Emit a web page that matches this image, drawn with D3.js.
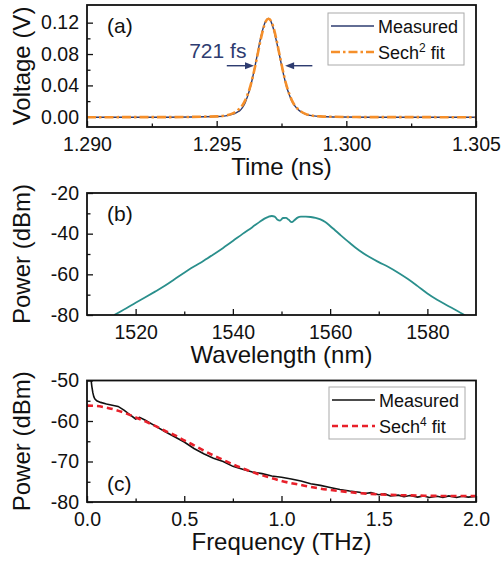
<!DOCTYPE html>
<html>
<head>
<meta charset="utf-8">
<script src="https://cdn.jsdelivr.net/npm/d3@7"></script>
<style>
  body { margin: 0; background: #fff; }
  text { font-family: "Liberation Sans", Arial, sans-serif; }
</style>
</head>
<body>
<div class="chart"></div>
<script>
const width = 503;
const height = 563;

// (a) autocorrelation trace
const timeA = [1.2900, 1.2930, 1.2950, 1.2954, 1.2956, 1.2958, 1.2959, 1.2960, 1.2961, 1.2962, 1.2963, 1.2964,
  1.2965, 1.2966, 1.2967, 1.2968, 1.2969, 1.2970, 1.2971, 1.2972, 1.2973, 1.2974, 1.2975, 1.2976, 1.2977,
  1.2978, 1.2979, 1.2980, 1.2981, 1.2982, 1.2984, 1.2986, 1.2990, 1.2995, 1.3010, 1.3050];
const measuredA = [-0.0006, -0.0005, 0.0003, 0.0015, 0.003, 0.006, 0.008, 0.012, 0.018, 0.027, 0.038, 0.052,
  0.068, 0.085, 0.101, 0.114, 0.1225, 0.1255, 0.121, 0.111, 0.097, 0.082, 0.066, 0.051, 0.038,
  0.028, 0.020, 0.0145, 0.0105, 0.0075, 0.0038, 0.0018, 0.0004, -0.0002, -0.0005, -0.0006];
const fitA = [-0.0005, -0.0004, 0.0005, 0.002, 0.004, 0.008, 0.011, 0.015, 0.021, 0.029, 0.039, 0.052,
  0.067, 0.083, 0.099, 0.1125, 0.122, 0.125, 0.122, 0.1125, 0.099, 0.083, 0.067, 0.052, 0.039,
  0.029, 0.021, 0.015, 0.011, 0.008, 0.004, 0.002, 0.0005, 0.0, -0.0004, -0.0005];
const ticksA_x = [1.290, 1.295, 1.300, 1.305];
const minorA_x = [1.2925, 1.2975, 1.3025];
const ticksA_y = [0.00, 0.04, 0.08, 0.12];
const minorA_y = [0.02, 0.06, 0.10];

// (b) optical spectrum
const wavelength = [1515.6, 1518, 1520, 1522, 1524, 1526, 1528, 1530, 1532, 1534, 1536, 1538, 1540, 1542, 1544,
  1545.5, 1546.5, 1547.3, 1548, 1548.6, 1549.2, 1549.7, 1550.3, 1550.9, 1551.5, 1552.1, 1552.7, 1553.3, 1554,
  1555, 1556, 1557, 1558, 1559, 1560, 1561, 1562, 1564, 1566, 1568, 1570, 1572, 1574, 1576, 1578, 1580,
  1582, 1584, 1586, 1588];
const powerB = [-80, -76.8, -74.0, -71.3, -68.5, -65.6, -62.4, -59.2, -56.2, -53.3, -50.2, -47.0, -43.6, -40.1, -36.8,
  -34.2, -32.6, -31.7, -31.3, -31.6, -33.2, -33.6, -32.3, -32.2, -33.2, -34.3, -33.3, -32.1, -31.6,
  -31.6, -31.8, -32.2, -33.0, -34.3, -36.2, -38.3, -40.4, -44.5, -48.3, -51.4, -54.0, -56.4, -59.2, -62.3, -65.8, -69.4,
  -72.5, -75.2, -77.8, -80.6];
const ticksB_x = [1520, 1540, 1560, 1580];
const minorB_x = [1530, 1550, 1570];
const ticksB_y = [-80, -60, -40, -20];
const minorB_y = [-70, -50, -30];

// (c) RF spectrum
const freqC = [0.02, 0.025, 0.03, 0.035, 0.04, 0.05, 0.07, 0.1, 0.13, 0.16, 0.19, 0.22, 0.25, 0.27, 0.3, 0.35,
  0.4, 0.45, 0.5, 0.55, 0.6, 0.65, 0.7, 0.75, 0.8, 0.85, 0.9, 0.95, 1.0, 1.05, 1.1, 1.15, 1.2, 1.25, 1.3,
  1.35, 1.4, 1.43, 1.46, 1.5, 1.53, 1.56, 1.6, 1.63, 1.66, 1.7, 1.73, 1.76, 1.8, 1.83, 1.86, 1.9, 1.93, 1.96, 2.0];
const measuredC = [-49.5, -51.5, -53, -54, -54.5, -55, -55.4, -55.8, -56.1, -56.4, -57.3, -58.4, -59.5, -59.1, -59.8, -61.2,
  -62.6, -63.9, -65.2, -66.8, -68.1, -69.2, -70, -71.2, -71.9, -72.6, -73, -73.6, -73.9, -74.3, -74.8, -75.5, -75.9, -76.4, -76.9,
  -77.3, -77.6, -77.9, -77.7, -78.2, -78.0, -78.5, -78.3, -78.7, -78.4, -78.8, -78.5, -78.9, -78.6, -78.9, -78.5, -78.9, -78.6, -78.8, -78.6];
const freqFit = [0, 0.05, 0.1, 0.15, 0.2, 0.25, 0.3, 0.35, 0.4, 0.45, 0.5, 0.55, 0.6, 0.65, 0.7, 0.75, 0.8, 0.85,
  0.9, 0.95, 1.0, 1.1, 1.2, 1.3, 1.4, 1.5, 1.6, 1.7, 1.8, 2.0];
const fitC = [-56.2, -56.3, -56.7, -57.3, -58.1, -59.1, -60.1, -61.2, -62.4, -63.5, -64.8, -66.0, -67.3, -68.5, -69.6, -70.7, -71.7, -72.6,
  -73.4, -74.1, -74.8, -75.8, -76.7, -77.3, -77.8, -78.1, -78.3, -78.4, -78.5, -78.5];
const ticksC_x = [0.0, 0.5, 1.0, 1.5, 2.0];
const minorC_x = [0.25, 0.75, 1.25, 1.75];
const ticksC_y = [-80, -70, -60, -50];
const minorC_y = [-75, -65, -55];

const left = 87, right = 476;
const panels = {
  a: {top: 5, bottom: 127},
  b: {top: 193, bottom: 315},
  c: {top: 380.5, bottom: 502}
};

const svg = d3.select('.chart').append('svg')
  .attr('width', width)
  .attr('height', height);

// plain hyphen for negatives, like the original figure
const intFmt = d => String(d);

function drawPanel(p, xDom, yDom, xt, xm, yt, ym, xFmt, yFmt, xTitle, yTitle) {
  const x = d3.scaleLinear().domain(xDom).range([left, right]);
  const y = d3.scaleLinear().domain(yDom).range([p.bottom, p.top]);
  const g = svg.append('g');

  // minor ticks
  g.append('g').attr('transform', `translate(0,${p.bottom})`)
    .call(d3.axisBottom(x).tickValues(xm).tickSize(-3.5).tickFormat(''))
    .call(s => s.select('.domain').remove());
  g.append('g').attr('transform', `translate(${left},0)`)
    .call(d3.axisLeft(y).tickValues(ym).tickSize(-3.5).tickFormat(''))
    .call(s => s.select('.domain').remove());
  // major ticks
  g.append('g').attr('transform', `translate(0,${p.bottom})`)
    .call(d3.axisBottom(x).tickValues(xt).tickSize(-6).tickPadding(10.3).tickFormat(xFmt))
    .call(s => s.select('.domain').remove())
    .call(s => s.selectAll('text').attr('font-size', 19.5).attr('font-family', '"Liberation Sans", Arial, sans-serif').attr('fill', '#111'));
  g.append('g').attr('transform', `translate(${left},0)`)
    .call(d3.axisLeft(y).tickValues(yt).tickSize(-6).tickPadding(8).tickFormat(yFmt))
    .call(s => s.select('.domain').remove())
    .call(s => s.selectAll('text').attr('font-size', 19.5).attr('font-family', '"Liberation Sans", Arial, sans-serif').attr('fill', '#111'));
  g.selectAll('.tick line').attr('stroke', '#111').attr('stroke-width', 1.3);

  g.append('text')
    .attr('x', (left + right) / 2)
    .attr('y', p.bottom + 48)
    .attr('text-anchor', 'middle')
    .attr('font-size', 24)
    .attr('fill', '#111')
    .text(xTitle);
  g.append('text')
    .attr('transform', `translate(30,${(p.top + p.bottom) / 2}) rotate(-90)`)
    .attr('text-anchor', 'middle')
    .attr('font-size', 24)
    .attr('fill', '#111')
    .text(yTitle);

  const clipId = 'clip' + Math.round(p.top);
  svg.append('clipPath').attr('id', clipId)
    .append('rect').attr('x', left).attr('y', p.top).attr('width', right - left).attr('height', p.bottom - p.top);
  const plot = svg.append('g').attr('clip-path', `url(#${clipId})`);
  return {x, y, g, plot};
}

function frame(p) {
  svg.append('rect')
    .attr('x', left).attr('y', p.top)
    .attr('width', right - left).attr('height', p.bottom - p.top)
    .attr('fill', 'none').attr('stroke', '#111').attr('stroke-width', 1.8);
}

function legend(x0, y0, w, h, items) {
  const lg = svg.append('g');
  lg.append('rect').attr('x', x0).attr('y', y0).attr('width', w).attr('height', h)
    .attr('fill', '#fff').attr('stroke', '#aaa').attr('stroke-width', 1);
  items.forEach(it => {
    lg.append('line').attr('x1', x0 + 3).attr('x2', x0 + 46).attr('y1', it.y).attr('y2', it.y)
      .attr('stroke', it.color).attr('stroke-width', it.width).attr('stroke-dasharray', it.dash || null);
    const t = lg.append('text').attr('x', x0 + 50).attr('y', it.y + 6.5).attr('font-size', 18).attr('fill', '#111');
    t.append('tspan').text(it.label);
    if (it.sup) {
      t.append('tspan').attr('font-size', 12).attr('dy', -7).text(it.sup);
      t.append('tspan').attr('dy', 7).text(it.rest);
    }
  });
}

// ---- panel (a)
const A = drawPanel(panels.a, [1.290, 1.305], [-0.013, 0.1425], ticksA_x, minorA_x, ticksA_y, minorA_y,
  d3.format('.3f'), d3.format('.2f'), 'Time (ns)', 'Voltage (V)');
const lineA = d3.line().x((d, i) => A.x(timeA[i])).curve(d3.curveMonotoneX);
A.plot.append('path')
  .attr('d', lineA.y(d => A.y(d))(measuredA))
  .attr('fill', 'none').attr('stroke', '#2e3c70').attr('stroke-width', 1.4);
A.plot.append('path')
  .attr('d', lineA.y(d => A.y(d))(fitA))
  .attr('fill', 'none').attr('stroke', '#f58f2a').attr('stroke-width', 2.6)
  .attr('stroke-dasharray', '9,3,2.5,3');

// FWHM arrows
const arrowColor = '#2e3c70';
function arrow(t0, t1, v) {
  const x0 = A.x(t0), x1 = A.x(t1), yy = A.y(v);
  const dir = Math.sign(x1 - x0);
  svg.append('line').attr('x1', x0).attr('x2', x1 - dir * 6).attr('y1', yy).attr('y2', yy)
    .attr('stroke', arrowColor).attr('stroke-width', 1.4);
  svg.append('path')
    .attr('d', `M${x1},${yy} L${x1 - dir * 9},${yy - 3.5} L${x1 - dir * 9},${yy + 3.5} Z`)
    .attr('fill', arrowColor);
}
arrow(1.29539, 1.29644, 0.0651);
arrow(1.29869, 1.29764, 0.0651);
svg.append('text').attr('x', A.x(1.29394)).attr('y', A.y(0.0745))
  .attr('font-size', 21).attr('fill', arrowColor).text('721 fs');
svg.append('text').attr('x', 107).attr('y', 33).attr('font-size', 21).attr('fill', '#111').text('(a)');
frame(panels.a);
legend(328, 13, 136, 52, [
  {y: 26, color: '#2e3c70', width: 1.4, label: 'Measured'},
  {y: 52, color: '#f58f2a', width: 2.6, dash: '9,3,2.5,3', label: 'Sech', sup: '2', rest: ' fit'}
]);

// ---- panel (b)
const B = drawPanel(panels.b, [1510, 1590], [-80, -20], ticksB_x, minorB_x, ticksB_y, minorB_y,
  intFmt, intFmt, 'Wavelength (nm)', 'Power (dBm)');
B.plot.append('path')
  .attr('d', d3.line().x((d, i) => B.x(wavelength[i])).y(d => B.y(d)).curve(d3.curveMonotoneX)(powerB))
  .attr('fill', 'none').attr('stroke', '#2a8f8c').attr('stroke-width', 1.8);
svg.append('text').attr('x', 107).attr('y', 221).attr('font-size', 21).attr('fill', '#111').text('(b)');
frame(panels.b);

// ---- panel (c)
const C = drawPanel(panels.c, [0, 2.0], [-80, -50], ticksC_x, minorC_x, ticksC_y, minorC_y,
  d3.format('.1f'), intFmt, 'Frequency (THz)', 'Power (dBm)');
C.plot.append('path')
  .attr('d', d3.line().x((d, i) => C.x(freqC[i])).y(d => C.y(d))(measuredC))
  .attr('fill', 'none').attr('stroke', '#111').attr('stroke-width', 1.6);
C.plot.append('path')
  .attr('d', d3.line().x((d, i) => C.x(freqFit[i])).y(d => C.y(d)).curve(d3.curveMonotoneX)(fitC))
  .attr('fill', 'none').attr('stroke', '#e8202a').attr('stroke-width', 2.6)
  .attr('stroke-dasharray', '6,4');
svg.append('text').attr('x', 107).attr('y', 491).attr('font-size', 21).attr('fill', '#111').text('(c)');
frame(panels.c);
legend(329, 387, 136, 52, [
  {y: 400, color: '#111', width: 1.6, label: 'Measured'},
  {y: 426, color: '#e8202a', width: 2.6, dash: '6,4', label: 'Sech', sup: '4', rest: ' fit'}
]);
</script>
</body>
</html>
